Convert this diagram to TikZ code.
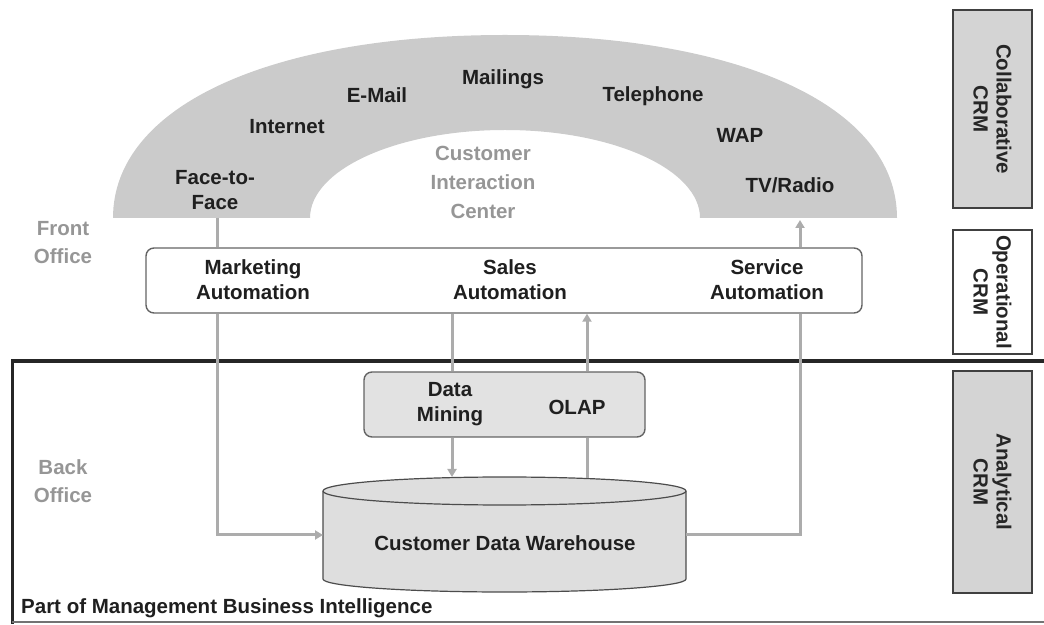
\documentclass[tikz,border=0pt]{standalone}
\usepackage{fontspec}
\setmainfont{Liberation Sans}
\usetikzlibrary{arrows.meta}
\definecolor{archgray}{RGB}{203,203,203}
\definecolor{labelgray}{RGB}{150,150,150}
\definecolor{conngray}{RGB}{172,172,172}
\definecolor{boxline}{RGB}{100,100,100}
\definecolor{crmfill}{RGB}{212,212,212}
\definecolor{datafill}{RGB}{226,226,226}
\definecolor{cylfill}{RGB}{222,222,222}
\tikzset{
  txt/.style={font=\fontsize{20.5}{25}\selectfont\bfseries, align=center, inner sep=0pt, text=black!88},
  graytxt/.style={txt, text=labelgray},
  conn/.style={draw=conngray, line width=3pt},
  connarrow/.style={conn, -{Triangle[width=9pt,length=8pt]}},
  opsbox/.style={draw=boxline, line width=1.4pt, fill=white, rounded corners=8pt, minimum width=716pt, minimum height=65pt, inner sep=0pt},
  databox/.style={draw=boxline, line width=1.4pt, fill=datafill, rounded corners=8pt, minimum width=281pt, minimum height=65pt, inner sep=0pt},
  crmbox/.style={draw=black!75, line width=1.5pt, minimum width=79pt, inner sep=0pt, outer sep=0pt},
  crmtxt/.style={font=\fontsize{20.5}{23}\selectfont\bfseries, align=center, rotate=-90, text=black!85},
}
\begin{document}
\begin{tikzpicture}[x=1pt,y=1pt]
\useasboundingbox (0,0) rectangle (1044,624);
% arch (slightly squared outer curve)
\fill[archgray] (113,406) .. controls (113,518) and (270,589) .. (505,589)
  .. controls (740,589) and (897,518) .. (897,406)
  -- (700,406) arc[start angle=0, end angle=180, x radius=195, y radius=88] -- cycle;
\node[txt] (mailings) at (503,545) {Mailings};
\node[txt] (email) at (377,529) {E-Mail};
\node[txt] (internet) at (287,497) {Internet};
\node[txt] (f2f) at (215,434) {Face-to-\\Face};
\node[txt] (telephone) at (653,528) {Telephone};
\node[txt] (wap) at (740,489) {WAP};
\node[txt] (tvradio) at (790,439) {TV/Radio};
\node[graytxt, font=\fontsize{20.5}{29}\selectfont\bfseries] (cic) at (483,442) {Customer\\Interaction\\Center};
\coordinate (archL) at (217,406);
\coordinate (archR) at (800,406);
\coordinate (salesx) at (452,0);
\coordinate (olapx) at (587,0);
% front/back office labels
\node[graytxt, font=\fontsize{20.5}{28}\selectfont\bfseries] (front) at (63,381) {Front\\Office};
\node[graytxt, font=\fontsize{20.5}{28}\selectfont\bfseries] (back) at (63,143) {Back\\Office};
% back office frame
\draw[black!85, line width=3.5pt] (12,263) -- (1050,263);
\draw[black!85, line width=3pt] (12,264.5) -- (12,0);
\draw[black!55, line width=1.2pt] (12,2) -- (1050,2);
% ops box
\node[opsbox] (ops) at (504,343.5) {};
\node[txt] (mkt) at (253,344) {Marketing\\Automation};
\node[txt] (sales) at (510,344) {Sales\\Automation};
\node[txt] (service) at (767,344) {Service\\Automation};
% data box
\node[databox] (data) at (504.5,219.5) {};
\node[txt] (mining) at (450,220) {Data\\Mining};
\node[txt] (olap) at (577,217) {OLAP};
% cylinder
\node[minimum width=363pt, minimum height=88pt, inner sep=0pt, outer sep=0pt] (dwh) at (504.5,89) {};
\filldraw[fill=cylfill, draw=black!70, line width=1.2pt]
  (323,133) -- (323,45) arc[start angle=180, end angle=360, x radius=181.5, y radius=13]
  -- (686,133) arc[start angle=0, end angle=180, x radius=181.5, y radius=14] -- cycle;
\draw[black!70, line width=1.2pt] (323,133) arc[start angle=180, end angle=360, x radius=181.5, y radius=14];
\coordinate (dwhtop) at (504.5,147);
\node[txt] (dwhlabel) at (505,81) {Customer Data Warehouse};
% part of label
\node[txt, anchor=west] (part) at (21,16) {Part of Management Business Intelligence};
% CRM boxes
\node[crmbox, fill=crmfill, minimum height=198pt] (collab) at (992.5,515) {};
\node[crmtxt] at (collab.center) {Collaborative\\CRM};
\node[crmbox, fill=white, minimum height=124pt] (oper) at (992.5,332) {};
\node[crmtxt] at (oper.center) {Operational\\CRM};
\node[crmbox, fill=crmfill, minimum height=222pt] (anal) at (992.5,142) {};
\node[crmtxt] at (anal.center) {Analytical\\CRM};
% connectors
\draw[conn] (archL) -- (archL |- ops.north);
\draw[connarrow] (archL |- ops.south) |- (dwh.west);
\draw[conn] (ops.south -| salesx) -- (data.north -| salesx);
\draw[connarrow] (data.south -| salesx) -- (dwhtop -| salesx);
\draw[conn] ([yshift=-1pt]dwhtop -| olapx) -- (data.south -| olapx);
\draw[connarrow] (data.north -| olapx) -- (ops.south -| olapx);
\draw[conn] (dwh.east) -| (archR |- ops.south);
\draw[connarrow] (archR |- ops.north) -- ([yshift=-2pt]archR);
\end{tikzpicture}
\end{document}
